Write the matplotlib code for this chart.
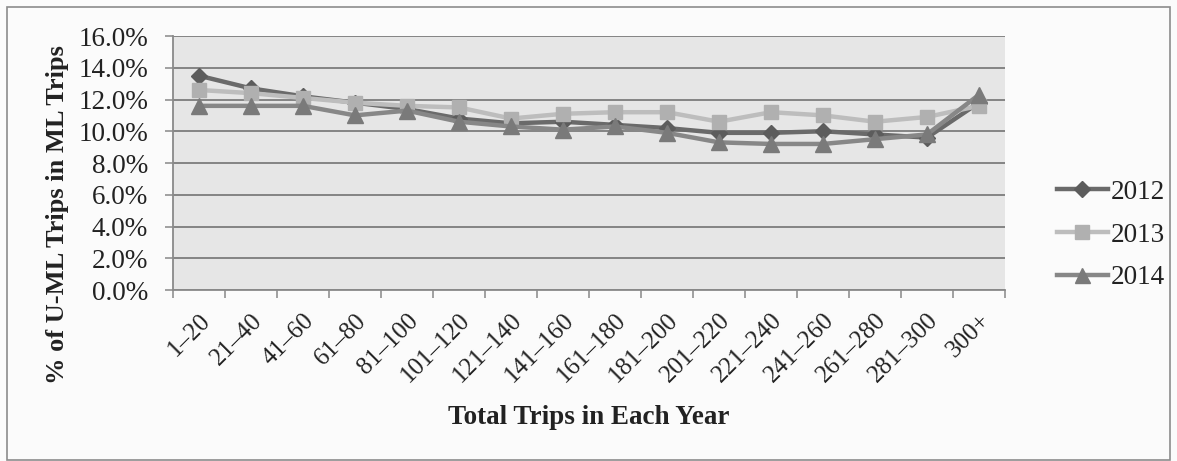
import numpy as np
import matplotlib
matplotlib.use("Agg")
import matplotlib.pyplot as plt
from matplotlib.patches import Rectangle

# Trip-count bins on the x axis
categories = ["1\u201320", "21\u201340", "41\u201360", "61\u201380", "81\u2013100",
              "101\u2013120", "121\u2013140", "141\u2013160", "161\u2013180", "181\u2013200",
              "201\u2013220", "221\u2013240", "241\u2013260", "261\u2013280", "281\u2013300", "300+"]

# Share (%) of U-ML trips among ML trips, per year
pct_2012 = [13.5, 12.7, 12.2, 11.8, 11.4, 10.8, 10.5, 10.6, 10.4, 10.2, 9.9, 9.9, 10.0, 9.8, 9.6, 11.8]
pct_2013 = [12.6, 12.4, 12.1, 11.8, 11.6, 11.5, 10.8, 11.1, 11.2, 11.2, 10.6, 11.2, 11.0, 10.6, 10.9, 11.6]
pct_2014 = [11.6, 11.6, 11.6, 11.0, 11.3, 10.6, 10.3, 10.1, 10.3, 9.9, 9.3, 9.2, 9.2, 9.5, 9.8, 12.3]

y_ticks = [0, 2, 4, 6, 8, 10, 12, 14, 16]

W, H = 1177, 461
plt.rcParams["font.family"] = ["Liberation Serif", "DejaVu Serif"]

fig = plt.figure(figsize=(W / 100, H / 100), dpi=100, facecolor="#fbfbfb")
ax = fig.add_axes([173 / W, 1 - 290 / H, (1005 - 173) / W, (290 - 36) / H])
ax.set_facecolor("#e6e6e6")

x = np.arange(len(categories))
series = [
    ("2012", pct_2012, "#6a6a6a", "#5c5c5c", "D", 8.5),
    ("2013", pct_2013, "#bdbdbd", "#b0b0b0", "s", 10.5),
    ("2014", pct_2014, "#878787", "#7a7a7a", "^", 12),
]
for name, vals, lc, mc, mk, ms in series:
    ax.plot(x, vals, color=lc, lw=3.2, marker=mk, markersize=ms,
            markerfacecolor=mc, markeredgecolor=mc, label=name, zorder=3)

ax.set_xlim(-0.5, len(categories) - 0.5)
ax.set_ylim(0, 16)

# Horizontal gridlines
ax.set_yticks(y_ticks)
ax.set_yticklabels([f"{v:.1f}%" for v in y_ticks])
ax.yaxis.grid(True, color="#7c7c7c", lw=1.3, zorder=1)
ax.set_axisbelow(True)

# Category labels at centers, tick marks at boundaries
ax.set_xticks(x)
ax.set_xticklabels(categories, rotation=45, ha="right", rotation_mode="anchor")
ax.set_xticks(np.arange(-0.5, len(categories)), minor=True)
ax.tick_params(axis="x", which="major", length=0, pad=14, labelsize=18, labelcolor="#222222")
ax.tick_params(axis="x", which="minor", length=6, width=1.1, color="#888888", direction="out")
ax.tick_params(axis="y", length=6, width=1.1, color="#888888", pad=12, labelsize=19.5,
               labelcolor="#222222")

for side in ("top", "right"):
    ax.spines[side].set_visible(False)
for side in ("left", "bottom"):
    ax.spines[side].set_color("#8a8a8a")
    ax.spines[side].set_linewidth(1.3)

# Axis titles
fig.text(58 / W, 1 - 215 / H, "% of U-ML Trips in ML Trips", rotation=90,
         ha="center", va="center", fontsize=19, fontweight="bold", color="#222222")
fig.text(589 / W, 1 - 417 / H, "Total Trips in Each Year", ha="center", va="center",
         fontsize=19.5, fontweight="bold", color="#222222")

# Legend on the right
leg = fig.legend(loc="center left", bbox_to_anchor=(1043 / W, 1 - 235 / H),
                 frameon=False, fontsize=19.5, handlelength=1.9, handletextpad=0.1,
                 labelspacing=0.65, borderpad=0, markerscale=0.9)
for t in leg.get_texts():
    t.set_color("#222222")

# Outer chart border
fig.patches.append(Rectangle((7 / W, 1 - 460 / H), (1170 - 7) / W, (460 - 7) / H,
                             transform=fig.transFigure, fill=False,
                             edgecolor="#8c8c8c", lw=1.2))

fig.savefig("out.png", dpi=100, facecolor=fig.get_facecolor())
